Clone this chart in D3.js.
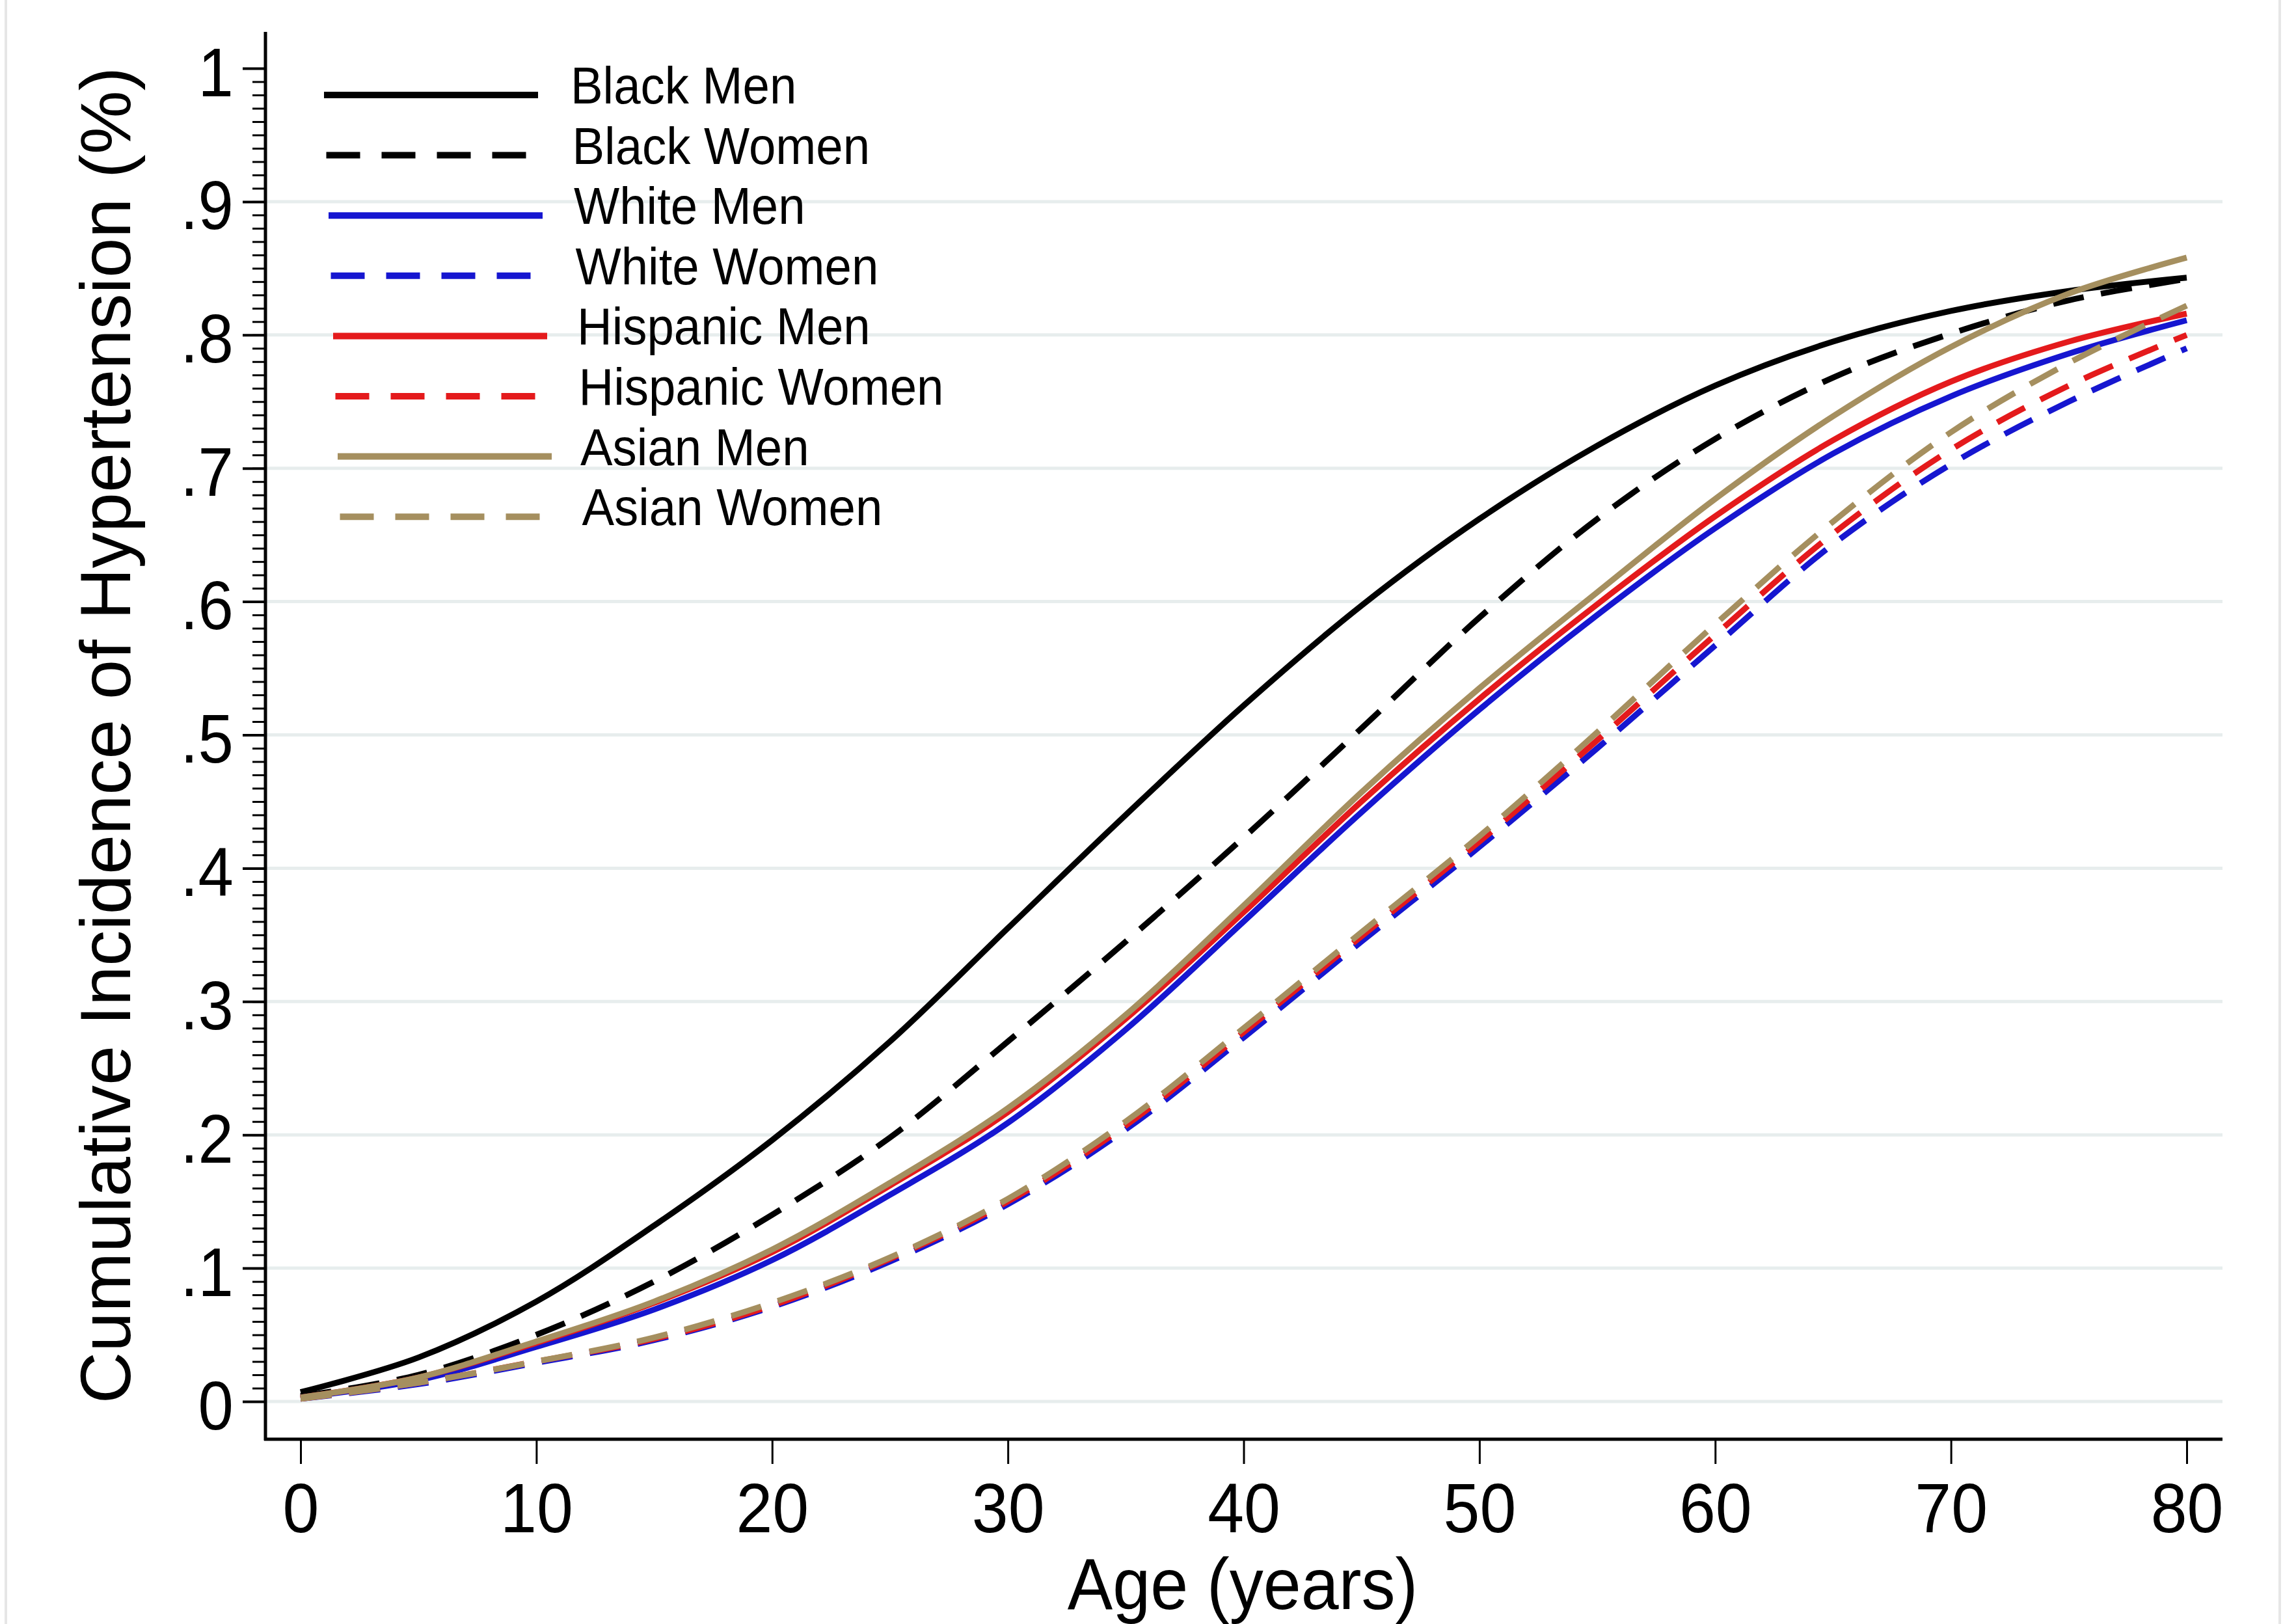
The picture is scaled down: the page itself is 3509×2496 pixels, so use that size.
<!DOCTYPE html>
<html>
<head>
<meta charset="utf-8">
<script src="https://cdn.jsdelivr.net/npm/d3@7"></script>
<style>
  html, body { margin: 0; padding: 0; background: #fff; }
  svg { display: block; }
</style>
</head>
<body>
<svg id="chart"></svg>
<script>
const ages = [0, 5, 10, 15, 20, 25, 30, 35, 40, 45, 50, 55, 60, 65, 70, 75, 80]

// cumulative incidence, one array per group
const blackMen = [0.007, 0.033, 0.075, 0.132, 0.196, 0.27, 0.355, 0.44, 0.522, 0.597, 0.662, 0.717, 0.762, 0.795, 0.818, 0.833, 0.843]
const blackWomen = [0.004, 0.02, 0.05, 0.09, 0.14, 0.198, 0.27, 0.345, 0.423, 0.505, 0.588, 0.662, 0.722, 0.768, 0.801, 0.826, 0.842]
const whiteMen = [0.003, 0.016, 0.041, 0.069, 0.106, 0.155, 0.209, 0.279, 0.36, 0.442, 0.519, 0.59, 0.655, 0.711, 0.754, 0.786, 0.811]
const whiteWomen = [0.002, 0.013, 0.029, 0.046, 0.071, 0.105, 0.148, 0.204, 0.273, 0.345, 0.416, 0.49, 0.567, 0.643, 0.703, 0.75, 0.79]
const hispanicMen = [0.003, 0.018, 0.044, 0.074, 0.112, 0.162, 0.217, 0.287, 0.367, 0.45, 0.527, 0.598, 0.664, 0.721, 0.765, 0.795, 0.816]
const hispanicWomen = [0.002, 0.014, 0.03, 0.047, 0.072, 0.107, 0.15, 0.207, 0.277, 0.349, 0.42, 0.496, 0.575, 0.651, 0.714, 0.762, 0.8]
const asianMen = [0.003, 0.018, 0.045, 0.075, 0.114, 0.164, 0.22, 0.29, 0.372, 0.457, 0.535, 0.607, 0.677, 0.739, 0.791, 0.831, 0.858]
const asianWomen = [0.002, 0.014, 0.03, 0.048, 0.074, 0.108, 0.152, 0.21, 0.28, 0.352, 0.424, 0.502, 0.583, 0.66, 0.727, 0.779, 0.822]

const seriesNames = ['Black Men', 'Black Women', 'White Men', 'White Women', 'Hispanic Men', 'Hispanic Women', 'Asian Men', 'Asian Women']
const seriesValues = [blackMen, blackWomen, whiteMen, whiteWomen, hispanicMen, hispanicWomen, asianMen, asianWomen]
const seriesColors = ['#000000', '#000000', '#1616d0', '#1616d0', '#e41a1c', '#e41a1c', '#a58f5f', '#a58f5f']
const seriesDashed = [false, true, false, true, false, true, false, true]

const xTicks = [0, 10, 20, 30, 40, 50, 60, 70, 80]
const yTicks = [0, 0.1, 0.2, 0.3, 0.4, 0.5, 0.6, 0.7, 0.8, 0.9, 1]
const yTickLabels = ['0', '.1', '.2', '.3', '.4', '.5', '.6', '.7', '.8', '.9', '1']
const yGrid = [0, 0.1, 0.2, 0.3, 0.4, 0.5, 0.6, 0.7, 0.8, 0.9]

const width = 3509
const height = 2496
const font = '"Liberation Sans", Arial, Helvetica, sans-serif'
const squeeze = 0.93 // the figure's lettering is a bit narrower than Arial
const dash = '48,27'
const lineWidth = 9

const svg = d3.select('#chart').attr('width', width).attr('height', height)

svg.append('rect').attr('width', width).attr('height', height).attr('fill', '#fff')

// faint frame edges of the exported figure
svg.append('g').attr('id', 'frame')
  .selectAll('line')
  .data([9, 3504])
  .join('line')
  .attr('x1', (d) => d).attr('x2', (d) => d)
  .attr('y1', 0).attr('y2', height)
  .attr('stroke', '#e6e6e6')
  .attr('stroke-width', 4)

const axisX0 = 408 // y axis position
const axisY0 = 2212 // x axis position
const plotRight = 3416

const x = d3.scaleLinear().domain([0, 80]).range([462, 3361])
const y = d3.scaleLinear().domain([0, 1]).range([2154, 105])

// grid
svg.append('g')
  .attr('id', 'grid')
  .selectAll('line')
  .data(yGrid)
  .join('line')
  .attr('x1', axisX0)
  .attr('x2', plotRight)
  .attr('y1', (d) => y(d))
  .attr('y2', (d) => y(d))
  .attr('stroke', '#e7eded')
  .attr('stroke-width', 5)

// minor ticks on the y axis, every .01
const minorTicks = d3.range(0, 101).map((i) => i / 100)
svg.append('g')
  .attr('id', 'yMinor')
  .attr('transform', `translate(${axisX0},0)`)
  .call(d3.axisLeft(y).tickValues(minorTicks).tickSize(20).tickSizeOuter(0).tickFormat(''))
  .call((g) => g.select('.domain').remove())
  .call((g) => g.selectAll('line').attr('stroke', '#000').attr('stroke-width', 3))

// major y ticks and labels
svg.append('g')
  .attr('id', 'yAxis')
  .attr('transform', `translate(${axisX0},0)`)
  .call(d3.axisLeft(y).tickValues(yTicks).tickSize(35).tickSizeOuter(0).tickPadding(18)
    .tickFormat((d, i) => yTickLabels[i]))
  .call((g) => g.select('.domain').remove())
  .call((g) => g.selectAll('line').attr('stroke', '#000').attr('stroke-width', 4))
  .call((g) => g.selectAll('text')
    .attr('font-family', font)
    .attr('font-size', 105)
    .attr('fill', '#000')
    .attr('dy', '0.4em')
    .attr('transform', `scale(${squeeze},1)`))

// x axis ticks and labels
svg.append('g')
  .attr('id', 'xAxis')
  .attr('transform', `translate(0,${axisY0})`)
  .call(d3.axisBottom(x).tickValues(xTicks).tickSize(38).tickSizeOuter(0).tickPadding(28)
    .tickFormat(d3.format('d')))
  .call((g) => g.select('.domain').remove())
  .call((g) => g.selectAll('line').attr('stroke', '#000').attr('stroke-width', 3))
  .call((g) => g.selectAll('text')
    .attr('font-family', font)
    .attr('font-size', 108)
    .attr('fill', '#000')
    .attr('transform', `scale(${squeeze},1)`)
    .attr('x', 0))

// axis lines
svg.append('line')
  .attr('x1', axisX0).attr('x2', axisX0)
  .attr('y1', 49).attr('y2', axisY0 + 2)
  .attr('stroke', '#000').attr('stroke-width', 5)
svg.append('line')
  .attr('x1', axisX0 - 2).attr('x2', plotRight)
  .attr('y1', axisY0).attr('y2', axisY0)
  .attr('stroke', '#000').attr('stroke-width', 5)

// curves
const line = d3.line()
  .curve(d3.curveCatmullRom.alpha(0.5))
  .x((d) => x(d[0]))
  .y((d) => y(d[1]))

svg.append('g')
  .attr('id', 'curves')
  .selectAll('path')
  .data(seriesValues.map((vals) => ages.map((a, i) => [a, vals[i]])))
  .join('path')
  .attr('d', line)
  .attr('fill', 'none')
  .attr('stroke', (d, i) => seriesColors[i])
  .attr('stroke-width', lineWidth)
  .attr('stroke-dasharray', (d, i) => (seriesDashed[i] ? dash : null))
  .attr('stroke-linejoin', 'round')

// legend
const legend = svg.append('g').attr('id', 'legend')
const rows = legend
  .selectAll('g')
  .data(seriesNames)
  .join('g')
  .attr('transform', (d, i) => `translate(0,${146 + i * 92.6})`)

rows.append('line')
  .attr('x1', (d, i) => 498 + i * 3.5)
  .attr('x2', (d, i) => 827 + i * 3.5)
  .attr('y1', 0).attr('y2', 0)
  .attr('stroke', (d, i) => seriesColors[i])
  .attr('stroke-width', lineWidth + 1)
  .attr('stroke-dasharray', (d, i) => (seriesDashed[i] ? '52,33' : null))

rows.append('text')
  .attr('transform', (d, i) => `translate(${877 + i * 2.5},13) scale(${squeeze},1)`)
  .attr('font-family', font)
  .attr('font-size', 80)
  .attr('fill', '#000')
  .text((d) => d)

// axis titles
svg.append('text')
  .attr('transform', `translate(1910,2473) scale(${squeeze},1)`)
  .attr('text-anchor', 'middle')
  .attr('font-family', font)
  .attr('font-size', 112)
  .attr('fill', '#000')
  .text('Age (years)')

svg.append('text')
  .attr('transform', 'translate(200,1130) rotate(-90)')
  .attr('text-anchor', 'middle')
  .attr('font-family', font)
  .attr('font-size', 110)
  .attr('fill', '#000')
  .text('Cumulative Incidence of Hypertension (%)')
</script>
</body>
</html>
